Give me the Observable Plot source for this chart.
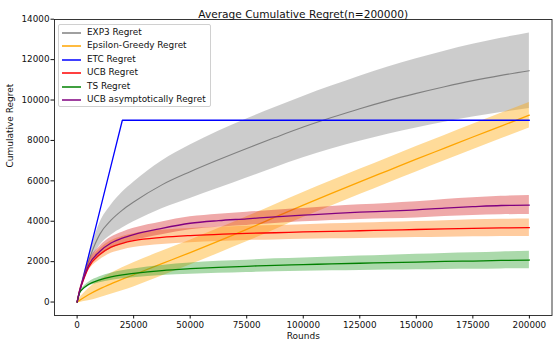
<!DOCTYPE html>
<html>
<head>
<meta charset="utf-8">
<script src="https://cdn.jsdelivr.net/npm/d3@7"></script>
<script src="https://cdn.jsdelivr.net/npm/@observablehq/plot@0.6"></script>
<style>
  html, body { margin: 0; padding: 0; background: white; }
  #wrap { position: relative; width: 557px; height: 350px; font-family: "DejaVu Sans", sans-serif; }
  #legend { position: absolute; left: 58px; top: 24px; width: 153px; height: 83px;
    background: rgba(255,255,255,0.85); border: 1px solid #d0d0d0; border-radius: 2px; box-sizing: border-box; }
  #legend svg { position: absolute; left: 0; top: 0; }
  .row { position: absolute; left: 28px; height: 13px; font-size: 8.9px; line-height: 13px; white-space: nowrap; color: #111; }
</style>
</head>
<body>
<div id="wrap"><div id="chart"></div><div id="legend"></div></div>
<script>
const title = "Average Cumulative Regret(n=200000)";
const xLabel = "Rounds";
const yLabel = "Cumulative Regret";
const xTicks = [0, 25000, 50000, 75000, 100000, 125000, 150000, 175000, 200000];
const yTicks = [0, 2000, 4000, 6000, 8000, 10000, 12000, 14000];

const seriesNames = ["EXP3 Regret", "Epsilon-Greedy Regret", "ETC Regret", "UCB Regret", "TS Regret", "UCB asymptotically Regret"];
const lineColors = ["#808080", "#ffa500", "#0000ff", "#ff0000", "#008000", "#800080"];
const bandColors = ["#808080", "#ffa500", "#0000ff", "#ff7f0e", "#2ca02c", "#d62728"];

const rounds = [0, 1000, 2500, 5000, 10000, 15000, 20000, 25000, 37500, 50000, 62500, 75000, 87500, 100000, 112500, 125000, 137500, 150000, 162500, 175000, 187500, 200000];

const exp3Mean = [0, 480, 1100, 2000, 3350, 4050, 4550, 4950, 5800, 6450, 7040, 7600, 8140, 8660, 9130, 9570, 9970, 10330, 10660, 10960, 11220, 11450];
const exp3Sd   = [0, 40, 100, 220, 550, 740, 880, 980, 1180, 1320, 1410, 1460, 1490, 1520, 1560, 1610, 1660, 1710, 1760, 1800, 1840, 1870];

const epsMean = [0, 80, 190, 360, 650, 900, 1130, 1350, 1900, 2450, 3020, 3600, 4200, 4800, 5380, 5950, 6510, 7070, 7620, 8170, 8710, 9250];
const epsSd   = [0, 100, 180, 300, 440, 520, 570, 600, 610, 615, 615, 618, 620, 620, 622, 625, 625, 628, 628, 630, 630, 630];

const etcMean = [0, 450, 1125, 2250, 4500, 6750, 9000, 9000, 9000, 9000, 9000, 9000, 9000, 9000, 9000, 9000, 9000, 9000, 9000, 9000, 9000, 9000];

const ucbMean = [0, 500, 1000, 1700, 2350, 2720, 2910, 3040, 3200, 3290, 3350, 3400, 3430, 3470, 3500, 3530, 3560, 3590, 3620, 3650, 3670, 3680];
const ucbSd   = [0, 40, 90, 180, 270, 310, 335, 345, 350, 350, 352, 355, 357, 360, 370, 380, 390, 400, 410, 420, 425, 430];

const tsMean = [0, 430, 650, 870, 1100, 1250, 1350, 1420, 1560, 1650, 1720, 1770, 1820, 1850, 1890, 1920, 1950, 1980, 2010, 2030, 2060, 2080];
const tsSd   = [0, 40, 70, 100, 150, 180, 200, 220, 250, 280, 295, 305, 320, 330, 345, 355, 365, 380, 395, 410, 420, 430];

const ucbAsMean = [0, 520, 1050, 1800, 2500, 2920, 3160, 3340, 3650, 3900, 4030, 4120, 4220, 4300, 4380, 4450, 4500, 4560, 4650, 4720, 4780, 4800];
const ucbAsSd   = [0, 40, 90, 180, 250, 285, 300, 310, 315, 320, 322, 325, 328, 330, 345, 360, 380, 400, 420, 440, 455, 470];

const means = [exp3Mean, epsMean, etcMean, ucbMean, tsMean, ucbAsMean];
const sds = [exp3Sd, epsSd, null, ucbSd, tsSd, ucbAsSd];

const tables = seriesNames.map((name, s) => rounds.map((r, i) => {
  const sd = sds[s] ? sds[s][i] : 0;
  return {series: name, round: r, mean: means[s][i], lo: means[s][i] - sd, hi: means[s][i] + sd};
}));

const marks = [];
tables.forEach((rows, s) => {
  const curve = s === 2 ? "linear" : "monotone-x";
  if (sds[s]) {
    marks.push(Plot.areaY(rows, {x: "round", y1: "lo", y2: "hi", fill: bandColors[s], fillOpacity: 0.4, curve}));
  }
  marks.push(Plot.lineY(rows, {x: "round", y: "mean", stroke: lineColors[s], strokeWidth: s === 0 ? 1.1 : 1.3, curve}));
});

const chart = Plot.plot({
  width: 557, height: 350,
  marginLeft: 54, marginRight: 5.5, marginTop: 19, marginBottom: 35,
  style: {fontFamily: "DejaVu Sans", fontSize: "8.8px", color: "#111", background: "white"},
  x: {domain: [-10000, 210000]},
  y: {domain: [-666, 13986]},
  marks: [
    ...marks,
    Plot.frame({stroke: "#222", strokeWidth: 0.9}),
    Plot.axisX({ticks: xTicks, tickFormat: d => String(d), tickSize: 3.5, tickPadding: 2.5, label: null, fontSize: 8.8}),
    Plot.axisY({ticks: yTicks, tickFormat: d => String(d), tickSize: 3.5, tickPadding: 1.5, label: null, fontSize: 8.8}),
    Plot.text([title], {frameAnchor: "top", dy: -9, fontSize: 10.6, fill: "#111"}),
    Plot.text([xLabel], {frameAnchor: "bottom", dy: 23, fontSize: 9, fill: "#111"}),
    Plot.text([yLabel], {frameAnchor: "left", dx: -44, rotate: -90, fontSize: 9, fill: "#111"})
  ]
});
document.getElementById("chart").appendChild(chart);

const legend = d3.select("#legend");
const lsvg = legend.append("svg").attr("width", 30).attr("height", 81);
seriesNames.forEach((name, s) => {
  const top = 1 + Math.round(s * 13.4);
  lsvg.append("line").attr("x1", 3).attr("x2", 22).attr("y1", top + 7).attr("y2", top + 7)
    .attr("stroke", lineColors[s]).attr("stroke-width", 1.5);
  legend.append("div").attr("class", "row").style("top", top + "px").text(name);
});
</script>
</body>
</html>
